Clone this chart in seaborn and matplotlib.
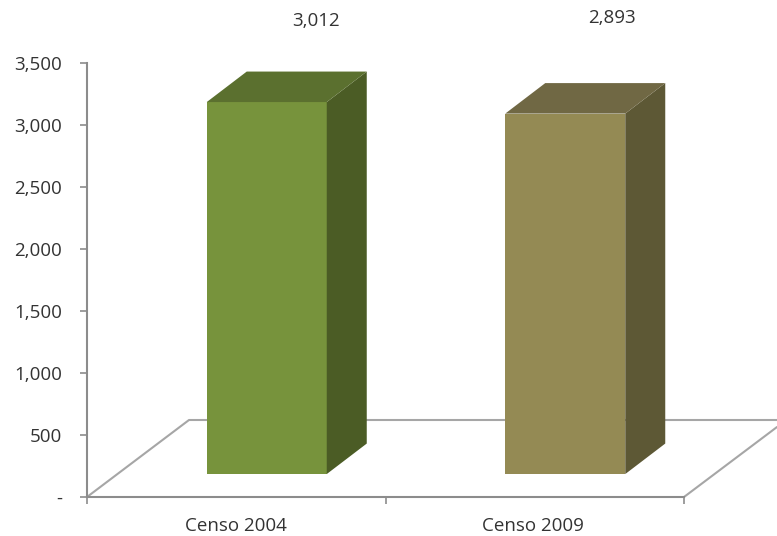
import matplotlib
matplotlib.use('Agg')
import matplotlib.pyplot as plt
from matplotlib.patches import Polygon
import pandas as pd
import seaborn as sns

categories = ['Censo 2004', 'Censo 2009']
# bar heights, the printed labels are below
bar_heights = [3000, 2907]
y_ticks = [0, 500, 1000, 1500, 2000, 2500, 3000, 3500]
y_labels = ['-', '500', '1,000', '1,500', '2,000', '2,500', '3,000', '3,500']
value_labels = ['3,012', '2,893']

front_colors = ['#77933C', '#948A54']
top_colors = ['#5B702F', '#706844']
side_colors = ['#4B5C25', '#5D5835']

sns.set_style('white')
plt.rcParams['font.family'] = ['Open Sans', 'DejaVu Sans']

W, H = 777, 536
fig = plt.figure(figsize=(W / 100, H / 100), dpi=100)
ax = fig.add_axes([87 / W, (H - 497) / H, 597 / W, 434 / H])

df = pd.DataFrame({'censo': categories, 'total': bar_heights})
# bars float above the floor of the 3D box, same as the excel chart
sns.barplot(data=df, x='censo', y='total', hue='censo', palette=front_colors,
            width=0.402, bottom=185, legend=False, ax=ax, zorder=3, saturation=1)

ax.set_xlim(-0.5, 1.5)
ax.set_ylim(0, 3500)
ux = 2 / 597
uy = 3500 / 434

# depth of the fake 3D
dx = 40 * ux
dy = 30.5 * uy
line_gray = '#A6A6A6'

# floor
fx0, fx1 = ax.get_xlim()
ax.plot([fx0, fx0 + 102 * ux, 1.5 + 93 * ux], [0, 77 * uy, 77 * uy], color=line_gray,
        lw=1.5, clip_on=False, zorder=1)
ax.plot([fx1, fx1 + 93 * ux], [0, 70 * uy], color=line_gray, lw=1.5, clip_on=False, zorder=1)

for i, bar in enumerate(ax.patches):
    bar.set_x(bar.get_x() + 30.5 * ux)
    bar.set_linewidth(0)
    x0, x1 = bar.get_x(), bar.get_x() + bar.get_width()
    y0, y1 = bar.get_y(), bar.get_y() + bar.get_height()
    ax.add_patch(Polygon([(x1, y0), (x1 + dx, y0 + dy), (x1 + dx, y1 + dy), (x1, y1)],
                         fc=side_colors[i], lw=0, zorder=3, clip_on=False))
    ax.add_patch(Polygon([(x0, y1), (x1, y1), (x1 + dx, y1 + dy), (x0 + dx, y1 + dy)],
                         fc=top_colors[i], lw=0, zorder=3, clip_on=False))

sns.despine(ax=ax)
for s in ['left', 'bottom']:
    ax.spines[s].set_color('#8C8C8C')
    ax.spines[s].set_linewidth(1.5)

ax.set_xlabel('')
ax.set_ylabel('')
ax.set_yticks(y_ticks)
ax.set_yticklabels(y_labels)
ax.set_xticks([-0.5, 0.5, 1.5], minor=False)
ax.set_xticklabels([])
ax.tick_params(axis='both', length=5, width=1.2, color='#8C8C8C', left=True, bottom=True)
ax.tick_params(axis='y', pad=13, labelsize=13.5, labelcolor='#333333')

for i, c in enumerate(categories):
    ax.annotate(c, (i, 0), xytext=(-1 * i, -21), textcoords='offset points', ha='center', va='center',
                fontsize=13.5, color='#333333', annotation_clip=False)

# value labels sit way above the bars in the original
fig.text(316 / W, 1 - 21 / H, value_labels[0], ha='center', va='center', fontsize=13.5, color='#333333')
fig.text(612 / W, 1 - 18 / H, value_labels[1], ha='center', va='center', fontsize=13.5, color='#333333')

fig.savefig('out.png', dpi=100)
